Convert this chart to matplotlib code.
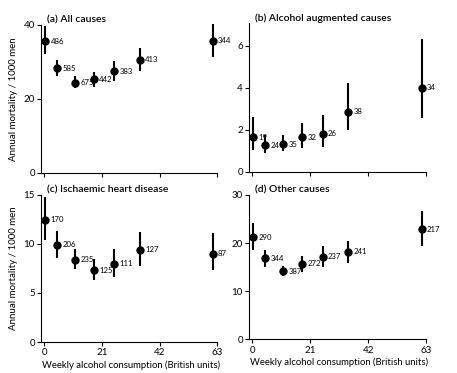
import matplotlib
matplotlib.use("Agg")
import matplotlib.pyplot as plt

plt.rcParams['font.family'] = ['Lato', 'DejaVu Sans']

# weekly consumption (British units) for each group
units = [0.3, 4.6, 11.2, 18.1, 25.5, 34.8, 61.3]

# (a) all causes
all_mean = [35.6, 28.3, 24.4, 25.3, 27.5, 30.6, 35.8]
all_hi = [39.6, 30.6, 26.2, 27.4, 30.3, 33.7, 40.3]
all_lo = [32.1, 26.1, 22.9, 23.2, 24.9, 27.7, 31.3]
all_n = ['486', '585', '675', '442', '383', '413', '344']

# (b) alcohol augmented causes
alc_mean = [1.65, 1.25, 1.3, 1.65, 1.8, 2.85, 4.0]
alc_hi = [2.6, 1.75, 1.75, 2.3, 2.7, 4.25, 6.3]
alc_lo = [1.05, 0.9, 1.0, 1.15, 1.2, 1.98, 2.55]
alc_n = ['19', '24', '35', '32', '26', '38', '34']

# (c) ischaemic heart disease
ihd_mean = [12.5, 9.9, 8.4, 7.3, 8.0, 9.4, 9.0]
ihd_hi = [14.8, 11.3, 9.5, 8.5, 9.5, 11.25, 11.15]
ihd_lo = [10.4, 8.6, 7.4, 6.3, 6.6, 7.8, 7.3]
ihd_n = ['170', '206', '235', '125', '111', '127', '87']

# (d) other causes
oth_mean = [21.2, 16.8, 14.1, 15.7, 17.2, 18.2, 22.9]
oth_hi = [24.1, 18.6, 15.2, 17.3, 19.4, 20.4, 26.7]
oth_lo = [18.6, 15.1, 13.1, 13.9, 15.1, 15.8, 19.4]
oth_n = ['290', '344', '387', '272', '237', '241', '217']

W, H = 457, 373
fig = plt.figure(figsize=(W / 100, H / 100), dpi=100)


def px_axes(left, bottom_y, width, height):
    # pixel box -> figure fraction
    return fig.add_axes([left / W, 1 - bottom_y / H, width / W, height / H])


def panel(ax, mean, lo, hi, n, ymax, yticks, title, left_label, bottom_label):
    for x, m, l, h, lab in zip(units, mean, lo, hi, n):
        ax.plot([x, x], [l, h], color='black', lw=1.5, clip_on=False, solid_capstyle='butt')
        ax.plot(x, m, 'o', color='black', ms=5, clip_on=False)
        ax.annotate(lab, (x, m), xytext=(3.8, 0), textcoords='offset points',
                    va='center', ha='left', fontsize=5.6)
    ax.set_xlim(-1.2, 64)
    ax.set_ylim(0, ymax)
    ax.set_xticks([0, 21, 42, 63])
    ax.set_yticks(yticks)
    ax.spines['top'].set_visible(False)
    ax.spines['right'].set_visible(False)
    ax.spines['bottom'].set_bounds(-1.2, 63)
    ax.tick_params(direction='out', length=3, width=0.8, labelsize=7, pad=1.5)
    if not bottom_label:
        ax.set_xticklabels([])
    else:
        ax.set_xlabel('Weekly alcohol consumption (British units)', fontsize=6.8, labelpad=2)
    if left_label:
        ax.set_ylabel('Annual mortality / 1000 men', fontsize=7, labelpad=4)
    ax.text(0.035, 1.0, title, transform=ax.transAxes, fontsize=7.5,
            fontweight='semibold', va='bottom', ha='left')


ax_a = px_axes(41, 173, 179, 148)
panel(ax_a, all_mean, all_lo, all_hi, all_n, 40, [0, 20, 40],
      '(a) All causes', True, False)

ax_b = px_axes(249, 171.7, 180, 149)
panel(ax_b, alc_mean, alc_lo, alc_hi, alc_n, 7.1, [0, 2, 4, 6],
      '(b) Alcohol augmented causes', False, False)

ax_c = px_axes(41, 342, 179, 147)
panel(ax_c, ihd_mean, ihd_lo, ihd_hi, ihd_n, 15, [0, 5, 10, 15],
      '(c) Ischaemic heart disease', True, True)

ax_d = px_axes(249, 339.3, 180, 144.3)
panel(ax_d, oth_mean, oth_lo, oth_hi, oth_n, 30, [0, 10, 20, 30],
      '(d) Other causes', False, True)

fig.savefig('out.png', dpi=100)
